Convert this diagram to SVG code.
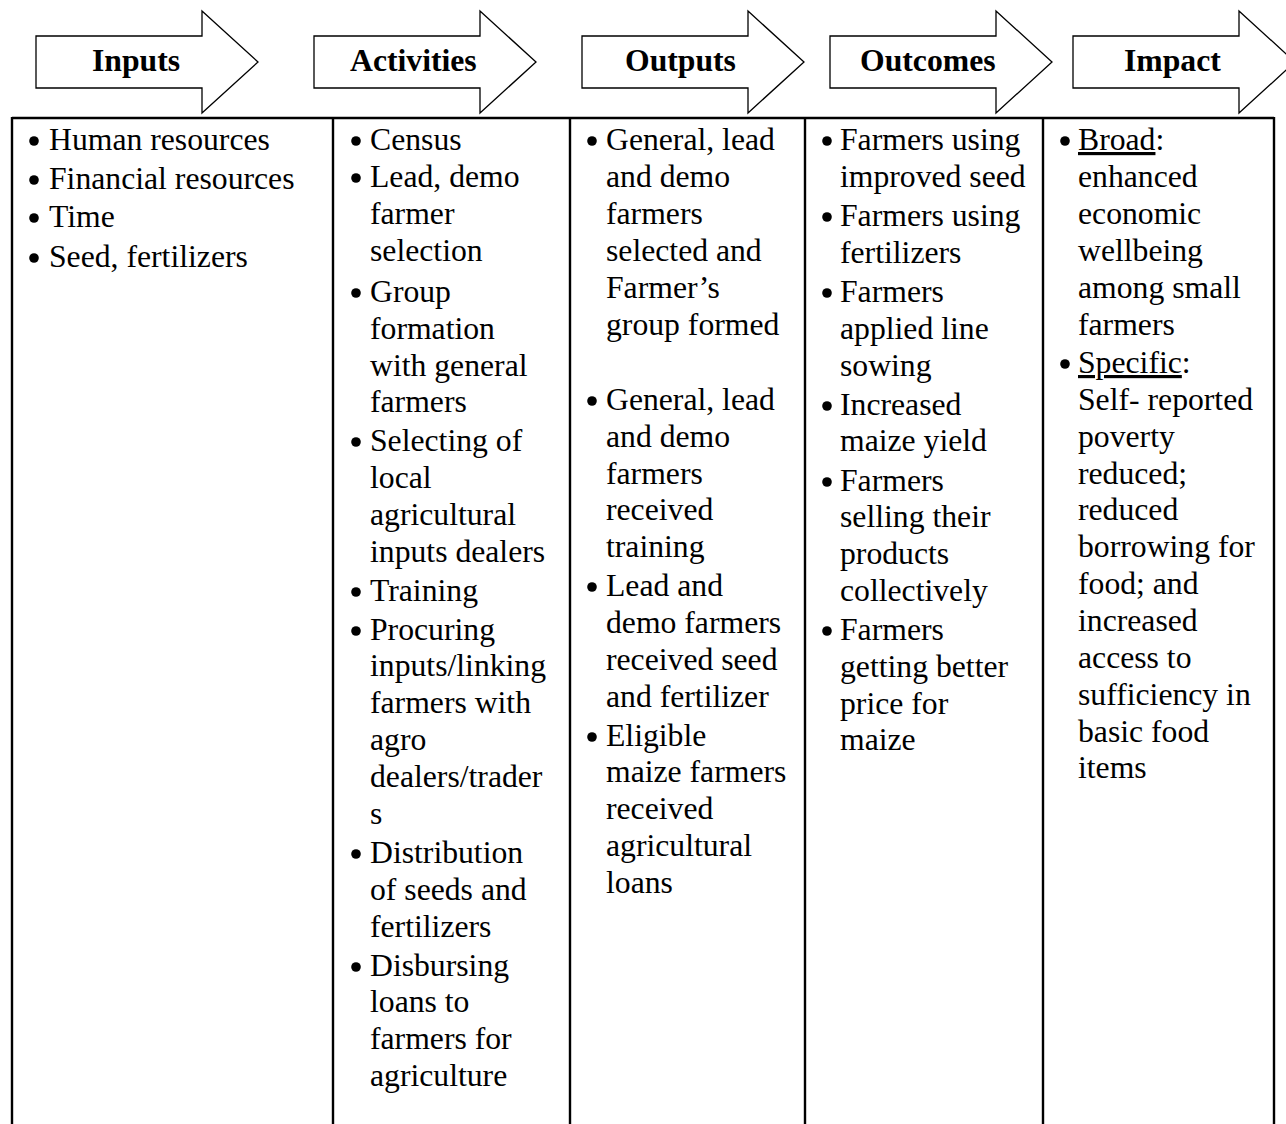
<svg xmlns="http://www.w3.org/2000/svg" width="1286" height="1124" viewBox="0 0 1286 1124">
<style>
text{font-family:"Liberation Serif","Times New Roman",serif;font-size:31.7px;fill:#000}
.h{font-weight:bold}
.arrow{fill:#fff;stroke:#000;stroke-width:1.3;stroke-linejoin:miter}
.grid{stroke:#000;stroke-width:2.4;fill:none}
.b{fill:#000}
.u{text-decoration:underline}
</style>
<defs>
<path id="arw" d="M0,0 H166 V-25 L222,26 L166,77 V52 H0 Z"/>
</defs>
<rect width="1286" height="1124" fill="#fff"/>
<g id="header-inputs"><use href="#arw" class="arrow" x="36" y="36"/><text class="h" x="92" y="71">Inputs</text></g>
<g id="header-activities"><use href="#arw" class="arrow" x="314" y="36"/><text class="h" x="350" y="71">Activities</text></g>
<g id="header-outputs"><use href="#arw" class="arrow" x="582" y="36"/><text class="h" x="625" y="71">Outputs</text></g>
<g id="header-outcomes"><use href="#arw" class="arrow" x="830" y="36"/><text class="h" x="860" y="71">Outcomes</text></g>
<g id="header-impact"><use href="#arw" class="arrow" x="1073" y="36"/><text class="h" x="1124" y="71">Impact</text></g>
<g id="table">
<path class="grid" d="M12,118 H1274 M12,117 V1124 M333,117 V1124 M570,117 V1124 M805,117 V1124 M1043,117 V1124 M1274,117 V1124"/>
</g>
<g id="col-inputs">
<circle class="b" cx="34" cy="141" r="4.8"/><circle class="b" cx="34" cy="180" r="4.8"/><circle class="b" cx="34" cy="218" r="4.8"/><circle class="b" cx="34" cy="258" r="4.8"/>
<text x="49" y="150">Human resources</text>
<text x="49" y="189">Financial resources</text>
<text x="49" y="227">Time</text>
<text x="49" y="267">Seed, fertilizers</text>
</g>
<g id="col-activities">
<circle class="b" cx="356" cy="141" r="4.8"/><circle class="b" cx="356" cy="178" r="4.8"/><circle class="b" cx="356" cy="293" r="4.8"/><circle class="b" cx="356" cy="442" r="4.8"/><circle class="b" cx="356" cy="592" r="4.8"/><circle class="b" cx="356" cy="631" r="4.8"/><circle class="b" cx="356" cy="854" r="4.8"/><circle class="b" cx="356" cy="967" r="4.8"/>
<text x="370" y="150">Census</text>
<text x="370" y="187">Lead, demo</text>
<text x="370" y="224">farmer</text>
<text x="370" y="261">selection</text>
<text x="370" y="302">Group</text>
<text x="370" y="339">formation</text>
<text x="370" y="376">with general</text>
<text x="370" y="412">farmers</text>
<text x="370" y="451">Selecting of</text>
<text x="370" y="488">local</text>
<text x="370" y="525">agricultural</text>
<text x="370" y="562">inputs dealers</text>
<text x="370" y="601">Training</text>
<text x="370" y="640">Procuring</text>
<text x="370" y="676">inputs/linking</text>
<text x="370" y="713">farmers with</text>
<text x="370" y="750">agro</text>
<text x="370" y="787">dealers/trader</text>
<text x="370" y="824">s</text>
<text x="370" y="863">Distribution</text>
<text x="370" y="900">of seeds and</text>
<text x="370" y="937">fertilizers</text>
<text x="370" y="976">Disbursing</text>
<text x="370" y="1012">loans to</text>
<text x="370" y="1049">farmers for</text>
<text x="370" y="1086">agriculture</text>
</g>
<g id="col-outputs">
<circle class="b" cx="592" cy="141" r="4.8"/><circle class="b" cx="592" cy="401" r="4.8"/><circle class="b" cx="592" cy="587" r="4.8"/><circle class="b" cx="592" cy="737" r="4.8"/>
<text x="606" y="150">General, lead</text>
<text x="606" y="187">and demo</text>
<text x="606" y="224">farmers</text>
<text x="606" y="261">selected and</text>
<text x="606" y="298">Farmer’s</text>
<text x="606" y="335">group formed</text>
<text x="606" y="410">General, lead</text>
<text x="606" y="447">and demo</text>
<text x="606" y="484">farmers</text>
<text x="606" y="520">received</text>
<text x="606" y="557">training</text>
<text x="606" y="596">Lead and</text>
<text x="606" y="633">demo farmers</text>
<text x="606" y="670">received seed</text>
<text x="606" y="707">and fertilizer</text>
<text x="606" y="746">Eligible</text>
<text x="606" y="782">maize farmers</text>
<text x="606" y="819">received</text>
<text x="606" y="856">agricultural</text>
<text x="606" y="893">loans</text>
</g>
<g id="col-outcomes">
<circle class="b" cx="827" cy="141" r="4.8"/><circle class="b" cx="827" cy="217" r="4.8"/><circle class="b" cx="827" cy="293" r="4.8"/><circle class="b" cx="827" cy="406" r="4.8"/><circle class="b" cx="827" cy="482" r="4.8"/><circle class="b" cx="827" cy="631" r="4.8"/>
<text x="840" y="150">Farmers using</text>
<text x="840" y="187">improved seed</text>
<text x="840" y="226">Farmers using</text>
<text x="840" y="263">fertilizers</text>
<text x="840" y="302">Farmers</text>
<text x="840" y="339">applied line</text>
<text x="840" y="376">sowing</text>
<text x="840" y="415">Increased</text>
<text x="840" y="451">maize yield</text>
<text x="840" y="491">Farmers</text>
<text x="840" y="527">selling their</text>
<text x="840" y="564">products</text>
<text x="840" y="601">collectively</text>
<text x="840" y="640">Farmers</text>
<text x="840" y="677">getting better</text>
<text x="840" y="714">price for</text>
<text x="840" y="750">maize</text>
</g>
<g id="col-impact">
<circle class="b" cx="1065" cy="141" r="4.8"/><circle class="b" cx="1065" cy="364" r="4.8"/>
<text x="1078" y="150"><tspan class="u">Broad</tspan>:</text>
<text x="1078" y="187">enhanced</text>
<text x="1078" y="224">economic</text>
<text x="1078" y="261">wellbeing</text>
<text x="1078" y="298">among small</text>
<text x="1078" y="335">farmers</text>
<text x="1078" y="373"><tspan class="u">Specific</tspan>:</text>
<text x="1078" y="410">Self- reported</text>
<text x="1078" y="447">poverty</text>
<text x="1078" y="484">reduced;</text>
<text x="1078" y="520">reduced</text>
<text x="1078" y="557">borrowing for</text>
<text x="1078" y="594">food; and</text>
<text x="1078" y="631">increased</text>
<text x="1078" y="668">access to</text>
<text x="1078" y="705">sufficiency in</text>
<text x="1078" y="742">basic food</text>
<text x="1078" y="778">items</text>
</g>
</svg>
